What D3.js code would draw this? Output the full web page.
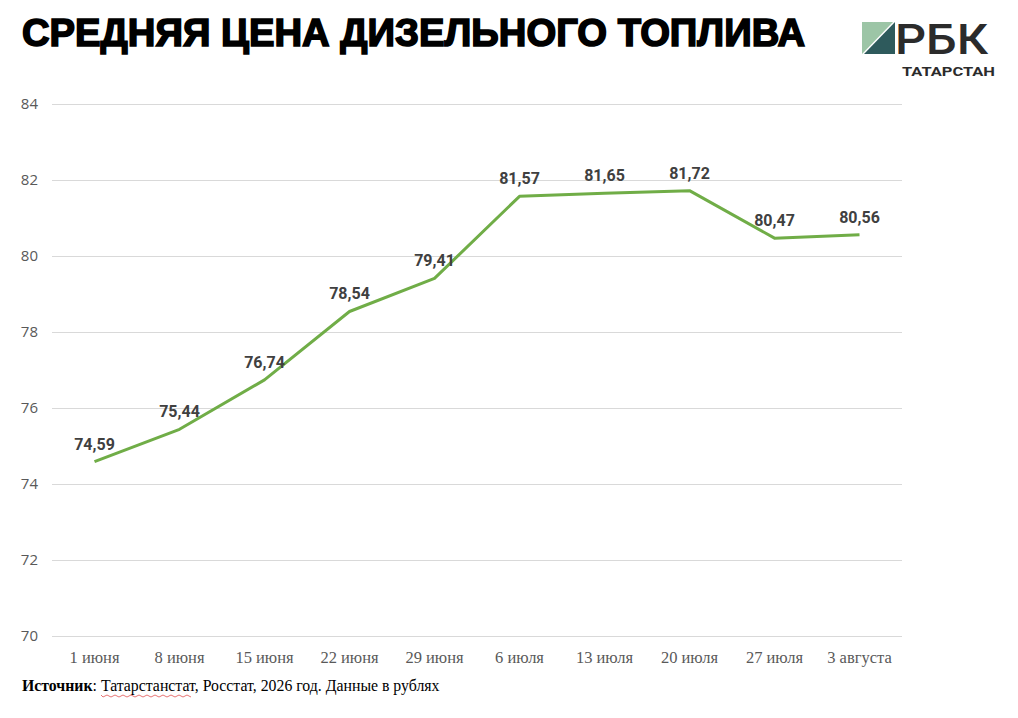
<!DOCTYPE html>
<html>
<head>
<meta charset="utf-8">
<script src="https://cdn.jsdelivr.net/npm/d3@7"></script>
<style>
  body { margin: 0; background: #fff; }
</style>
</head>
<body>
<svg id="chart" width="1018" height="718"></svg>
<script>
const dates = ["1 июня", "8 июня", "15 июня", "22 июня", "29 июня", "6 июля", "13 июля", "20 июля", "27 июля", "3 августа"];
const prices = [74.59, 75.44, 76.74, 78.54, 79.41, 81.57, 81.65, 81.72, 80.47, 80.56];
const yTicks = [70, 72, 74, 76, 78, 80, 82, 84];

const margin = { top: 104, right: 116, bottom: 82, left: 52 };
const width = 1018, height = 718;

const svg = d3.select("#chart");

const x = d3.scaleBand().domain(dates).range([margin.left, width - margin.right]);
const y = d3.scaleLinear().domain([70, 84]).range([height - margin.bottom, margin.top]);

// title
svg.append("text")
    .attr("x", 22)
    .attr("y", 46)
    .attr("font-family", "Liberation Sans, Arial, sans-serif")
    .attr("font-weight", 900)
    .attr("font-size", 38)
    .attr("textLength", 783)
    .attr("lengthAdjust", "spacingAndGlyphs")
    .attr("fill", "#000")
    .attr("stroke", "#000")
    .attr("stroke-width", 1.6)
    .text("СРЕДНЯЯ ЦЕНА ДИЗЕЛЬНОГО ТОПЛИВА");

// logo
const logo = svg.append("g").attr("transform", "translate(862,22)");
logo.append("path").attr("d", "M0,0H31L0,32Z").attr("fill", "#9cc5a6");
logo.append("path").attr("d", "M33,0V32H2Z").attr("fill", "#2e5a5c");
logo.append("text")
    .attr("x", 33).attr("y", 32)
    .attr("font-family", "Roboto, Liberation Sans, sans-serif")
    .attr("font-size", 42)
    .attr("font-weight", 500)
    .attr("textLength", 93)
    .attr("lengthAdjust", "spacingAndGlyphs")
    .attr("fill", "#2b2b2b")
    .text("РБК");
logo.append("text")
    .attr("x", 40).attr("y", 54)
    .attr("font-family", "Roboto, Liberation Sans, sans-serif")
    .attr("font-size", 13)
    .attr("font-weight", 700)
    .attr("textLength", 93)
    .attr("lengthAdjust", "spacingAndGlyphs")
    .attr("fill", "#2b2b2b")
    .text("ТАТАРСТАН");

// grid
svg.append("g")
    .selectAll("line")
    .data(yTicks)
    .join("line")
    .attr("x1", margin.left)
    .attr("x2", width - margin.right)
    .attr("y1", d => y(d) + 0.5)
    .attr("y2", d => y(d) + 0.5)
    .attr("stroke", "#d9d9d9")
    .attr("stroke-width", 1);

// y labels
svg.append("g")
    .attr("font-family", "Open Sans, Noto Sans, sans-serif")
    .attr("font-size", 15)
    .attr("fill", "#595959")
    .attr("text-anchor", "end")
    .selectAll("text")
    .data(yTicks)
    .join("text")
    .attr("x", 38)
    .attr("y", d => y(d))
    .attr("dy", "0.35em")
    .text(d => d);

// x labels
svg.append("g")
    .attr("font-family", "Liberation Serif, Times New Roman, serif")
    .attr("font-size", 16.5)
    .attr("fill", "#595959")
    .attr("text-anchor", "middle")
    .selectAll("text")
    .data(dates)
    .join("text")
    .attr("x", d => x(d) + x.bandwidth() / 2)
    .attr("y", 663)
    .text(d => d);

// line
const line = d3.line()
    .x((d, i) => x(dates[i]) + x.bandwidth() / 2)
    .y(d => y(d));

svg.append("path")
    .datum(prices)
    .attr("fill", "none")
    .attr("stroke", "#70ad47")
    .attr("stroke-width", 3)
    .attr("stroke-linejoin", "round")
    .attr("d", line);

// data labels
svg.append("g")
    .attr("font-family", "Roboto, Liberation Sans, sans-serif")
    .attr("font-size", 16)
    .attr("font-weight", 700)
    .attr("fill", "#404040")
    .attr("text-anchor", "middle")
    .selectAll("text")
    .data(prices)
    .join("text")
    .attr("x", (d, i) => x(dates[i]) + x.bandwidth() / 2)
    .attr("y", d => y(d) - 12)
    .text(d => d3.format(".2f")(d).replace(".", ","));

// source
const src = svg.append("text")
    .attr("x", 22)
    .attr("y", 691)
    .attr("font-family", "Liberation Serif, Times New Roman, serif")
    .attr("font-size", 15.8)
    .attr("fill", "#000");
src.append("tspan").attr("font-weight", 700).text("Источник");
src.append("tspan").text(": Татарстанстат, Росстат, 2026 год. Данные в рублях");

// spell-check squiggle under "Татарстанстат"
const sq = d3.path();
sq.moveTo(101, 695);
for (let i = 0; i < 23; i++) {
    sq.lineTo(101 + i * 4 + 2, i % 2 ? 695 : 697);
}
svg.append("path")
    .attr("d", sq.toString())
    .attr("fill", "none")
    .attr("stroke", "#e05050")
    .attr("stroke-width", 0.8);
</script>
</body>
</html>
